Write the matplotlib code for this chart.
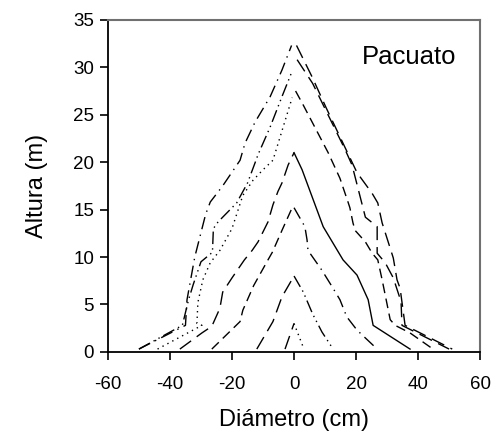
import matplotlib.pyplot as plt

plt.rcParams['axes.unicode_minus'] = False
plt.rcParams['font.family'] = ['Liberation Sans', 'DejaVu Sans']

# stem profiles: (diameter, height) pairs, left and right half of each tree
p1_left_x = [-50, -35, -34.5, -32, -28.5, -27, -23, -17.4, -15.8, -12.6, -7.7, -3.9, -0.8]
p1_left_h = [0.3, 2.8, 5.5, 10, 14.5, 15.8, 17.5, 20.2, 22, 24.2, 26.9, 29.7, 32.3]
p1_right_x = [0.8, 5.8, 10.4, 20.3, 25.2, 27, 28.4, 32, 33.2, 34.2, 35.8, 51]
p1_right_h = [32.3, 29, 25.7, 18.9, 16.7, 15.7, 13.6, 9.9, 7.6, 6.7, 2.8, 0.3]

p2_left_x = [-50, -36, -34, -32.5, -30, -26.3, -26, -24.5, -18.5, -15, -12.6, -11.6, -7.7, -3.9, -0.6]
p2_left_h = [0.3, 2.8, 5.5, 7.1, 9.5, 10.5, 13, 13.7, 15.7, 17.8, 19.9, 20.8, 23.7, 26.9, 29.6]
p2_right_x = [1, 6, 16.5, 18.7, 23, 26.8, 26.8, 29.4, 32, 34.5, 34.8, 50]
p2_right_h = [30.8, 28.3, 21.3, 19.7, 14.2, 13.2, 10.4, 9.4, 7.8, 5.3, 2.8, 0.3]

p6_left_x = [-44, -29.7, -31.3, -31, -29.4, -27, -23.9, -20, -16.5, -13.2, -10, -6.8, -0.6]
p6_left_h = [0.3, 2.8, 3.0, 5.2, 7.6, 9.4, 10.7, 13, 16.5, 18.1, 19.2, 20.2, 26.8]
p6_right_x = [0.5, 3, 11, 14.8, 17.4, 18, 19, 19.7, 23, 25.2, 27, 28.4, 31, 32.6, 37.4, 44.8]
p6_right_h = [27.5, 26, 21, 18.3, 15.8, 15.2, 13.6, 12.8, 11.6, 10.4, 9.7, 7.6, 3.4, 2.8, 2, 0.3]

p4_left_x = [-36.8, -29.7, -26.5, -23.9, -23, -20, -16, -13.5, -11.6, -8.4, -6.8, -5.2, -3.9, -1.9, 0]
p4_left_h = [0.3, 2, 2.7, 4.6, 6.3, 7.8, 9.7, 10.7, 11.6, 13.7, 15.5, 16.9, 17.8, 19.7, 21]
p4_right_x = [0, 2.6, 9.4, 15.8, 20.3, 23.9, 25.5, 37.4]
p4_right_h = [21, 19.2, 13.2, 9.7, 8.1, 5.5, 2.8, 0.3]

p3_left_x = [-26.5, -17.4, -16.5, -13, -8.4, -7, -3.9, -0.6]
p3_left_h = [0.3, 3.2, 4.4, 7, 9.7, 10.5, 12.8, 15.2]
p3_right_x = [0, 3.5, 4.2, 4.5, 9, 12.6, 14.8, 17, 20.3, 26.8]
p3_right_h = [15.2, 13.2, 11.8, 10.7, 8.6, 6.7, 5.5, 3.7, 2.3, 0.3]

p5_left_x = [-12, -6.8, -3.9, 0]
p5_left_h = [0.3, 3.2, 5.8, 8]
p5_right_x = [0, 3, 6, 9, 12.6]
p5_right_h = [8, 6.3, 4, 2.1, 0.3]

p7_left_x = [-2.9, 0]
p7_left_h = [0.3, 3]
p7_right_x = [0, 3.2]
p7_right_h = [3, 0.3]

long_dash = (0, (10, 5))
dash_dot = (0, (9, 4, 1, 4))
dash_dot2 = (0, (9, 3, 1, 3, 1, 3))
dotted = (0, (1, 3))
dashed = (0, (7, 4))

fig = plt.figure(figsize=(4.95, 4.41), dpi=100)
ax = fig.add_axes([0.218, 0.202, 0.752, 0.753])

lw = 1.0
ax.plot(p1_left_x, p1_left_h, color='k', lw=lw, ls=dash_dot)
ax.plot(p1_right_x, p1_right_h, color='k', lw=lw, ls=long_dash)
ax.plot(p2_left_x, p2_left_h, color='k', lw=lw, ls=dash_dot2)
ax.plot(p2_right_x, p2_right_h, color='k', lw=lw, ls=long_dash)
ax.plot(p6_left_x, p6_left_h, color='k', lw=lw, ls=dotted)
ax.plot(p6_right_x, p6_right_h, color='k', lw=lw, ls=dashed)
ax.plot(p4_left_x, p4_left_h, color='k', lw=lw, ls=long_dash)
ax.plot(p4_right_x, p4_right_h, color='k', lw=lw, ls='-')
ax.plot(p3_left_x, p3_left_h, color='k', lw=lw, ls=dashed)
ax.plot(p3_right_x, p3_right_h, color='k', lw=lw, ls=dash_dot)
ax.plot(p5_left_x, p5_left_h, color='k', lw=lw, ls=long_dash)
ax.plot(p5_right_x, p5_right_h, color='k', lw=lw, ls=dash_dot2)
ax.plot(p7_left_x, p7_left_h, color='k', lw=lw, ls=long_dash)
ax.plot(p7_right_x, p7_right_h, color='k', lw=lw, ls=dotted)

ax.set_xlim(-60, 60)
ax.set_ylim(0, 35)
ax.set_xticks(range(-60, 61, 20))
ax.set_yticks(range(0, 36, 5))
ax.tick_params(direction='out', length=6, width=1.2, labelsize=13.5)
ax.tick_params(axis='x', pad=11)
ax.tick_params(axis='y', pad=4)

for s in ['left', 'bottom']:
    ax.spines[s].set_linewidth(1.3)
for s in ['top', 'right']:
    ax.spines[s].set_color('#707070')
    ax.spines[s].set_linewidth(1.5)

ax.set_xlabel('Diámetro (cm)', fontsize=17, labelpad=12)
ax.set_ylabel('Altura (m)', fontsize=17, labelpad=18)
ax.text(22, 31.1, 'Pacuato', fontsize=18.5, va='center')

fig.savefig('out.png', dpi=100)
